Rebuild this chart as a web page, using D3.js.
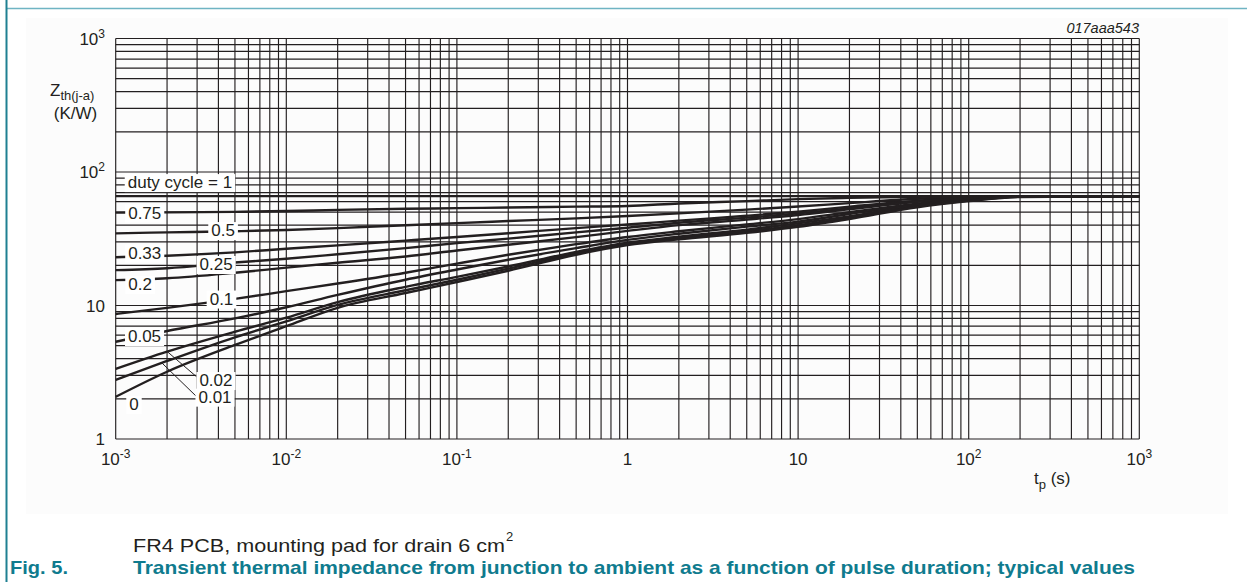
<!DOCTYPE html>
<html>
<head>
<meta charset="utf-8">
<script src="https://cdn.jsdelivr.net/npm/d3@7"></script>
<style>
  html, body { margin: 0; padding: 0; background: #fff; }
  svg { display: block; font-family: "Liberation Sans", Arial, sans-serif; }
</style>
</head>
<body>
<div id="chart"></div>
<script>
// pulse duration (s)
var tp = [0.001, 0.002, 0.005, 0.01, 0.02, 0.05, 0.1, 0.2, 0.5, 1, 2, 5, 10, 20, 50, 100, 200, 1000]

// Zth(j-a) in K/W, one array per duty cycle
var zthD100 = [66, 66, 66, 66, 66, 66, 66, 66, 66, 66, 66, 66, 66, 66, 66, 66, 66, 66]
var zthD75 = [49.6, 49.8, 50.3, 51, 52, 53.0, 53.6, 54.2, 55.0, 55.7, 58.1, 60.5, 62.6, 64, 65.2, 65.8, 66, 66]
var zthD50 = [34.7, 35.3, 36, 36.8, 38, 39.9, 41.4, 42.9, 44.9, 46.8, 49, 52.3, 55.1, 58.5, 63, 65, 66, 66]
var zthD33 = [23.0, 23.6, 25.0, 26.6, 28.2, 30.6, 32.6, 34.8, 38.0, 40.4, 43.2, 47, 50.5, 55, 61, 64.5, 66, 66]
var zthD25 = [18.4, 19.0, 21.0, 22.4, 24.2, 26.9, 29.3, 31.7, 35.3, 38.2, 41.7, 45.5, 49.0, 53.5, 60.4, 64, 65.8, 66]
var zthD20 = [15.5, 16.0, 17.6, 19.2, 20.9, 23.3, 25.8, 28.5, 32.5, 36.2, 40.0, 44, 47.6, 52.5, 59.7, 63.5, 65.8, 66]
var zthD10 = [8.64, 9.6, 11.2, 12.8, 14.6, 17.6, 20.6, 24.0, 28.8, 32.6, 36.0, 40.5, 44.4, 50, 58, 62.8, 65.5, 66]
var zthD05 = [5.35, 6.44, 8.0, 9.7, 12.0, 15.6, 18.6, 22.0, 26.9, 31.0, 34.5, 39, 42.5, 48.5, 57, 62.3, 65.5, 66]
var zthD02 = [3.35, 4.51, 6.36, 8.1, 10.6, 13.8, 16.4, 19.6, 25.2, 29.5, 32.8, 37, 41.2, 46.5, 56.2, 61.5, 65.3, 66]
var zthD01 = [2.77, 3.84, 5.78, 7.6, 10.1, 13.0, 15.6, 18.9, 24.6, 28.9, 32.0, 36, 40, 45.5, 55.3, 61, 65.2, 66]
var zthD00 = [2.07, 3.19, 5.06, 7.0, 9.6, 12.4, 15.0, 18.2, 24.0, 28.3, 31.3, 35, 38.9, 44.5, 54.5, 60.5, 65, 66]

var series = [zthD100, zthD75, zthD50, zthD33, zthD25, zthD20, zthD10, zthD05, zthD02, zthD01, zthD00]

// curve labels, anchored in data units (t, Zth)
var curveLabels = ['duty cycle = 1', '0.75', '0.5', '0.33', '0.25', '0.2', '0.1', '0.05', '0.02', '0.01', '0']
var labelT = [2.38e-3, 1.48e-3, 4.26e-3, 1.48e-3, 3.88e-3, 1.39e-3, 4.17e-3, 1.476e-3, 3.87e-3, 3.82e-3, 1.28e-3]
var labelZ = [84.2, 49.7, 36.8, 24.9, 20.5, 14.5, 11.3, 5.91, 2.77, 2.08, 1.83]

// leader lines for 0.02 and 0.01
var leaderFrom = [[3.04e-3, 2.86], [3.0e-3, 2.06]]
var leaderTo = [[2.02e-3, 4.48], [1.843e-3, 3.77]]

var xTickValues = [1e-3, 1e-2, 1e-1, 1, 10, 100, 1000]
var xTickBase = ['10', '10', '10', '1', '10', '10', '10']
var xTickExp = ['-3', '-2', '-1', '', '', '2', '3']
var yTickValues = [1, 10, 100, 1000]
var yTickBase = ['1', '10', '10', '10']
var yTickExp = ['', '', '2', '3']

var W = 1247, H = 582
var ink = '#231f20'
var teal = '#0f7b8e'

var svg = d3.select('#chart').append('svg')
  .attr('width', W)
  .attr('height', H)

// page frame
svg.append('rect')
  .attr('x', 26).attr('y', 18)
  .attr('width', 1202).attr('height', 496)
  .attr('fill', '#fcfcfc')
svg.append('line')
  .attr('x1', 6).attr('x2', W).attr('y1', 8.5).attr('y2', 8.5)
  .attr('stroke', '#6fb4c3').attr('stroke-width', 1.5)
svg.append('line')
  .attr('x1', 6.5).attr('x2', 6.5).attr('y1', 0).attr('y2', H)
  .attr('stroke', '#1f8092').attr('stroke-width', 2)

var x = d3.scaleLog().domain([1e-3, 1e3]).range([115.7, 1139.3])
var y = d3.scaleLog().domain([1, 1e3]).range([439, 38.5])

// log grid
var grid = svg.append('g')
  .attr('stroke', ink)
  .attr('stroke-width', 1.15)

grid.selectAll('.vgrid')
  .data(x.ticks())
  .enter().append('line')
  .attr('class', 'vgrid')
  .attr('x1', function (d) { return x(d) })
  .attr('x2', function (d) { return x(d) })
  .attr('y1', y(1))
  .attr('y2', y(1000))

grid.selectAll('.hgrid')
  .data(y.ticks())
  .enter().append('line')
  .attr('class', 'hgrid')
  .attr('x1', x(1e-3))
  .attr('x2', x(1e3))
  .attr('y1', function (d) { return y(d) })
  .attr('y2', function (d) { return y(d) })

// curves
var line = d3.line()
  .x(function (d, i) { return x(tp[i]) })
  .y(function (d) { return y(d) })
  .curve(d3.curveMonotoneX)

svg.append('g')
  .selectAll('path')
  .data(series)
  .enter().append('path')
  .attr('fill', 'none')
  .attr('stroke', ink)
  .attr('stroke-width', 2.4)
  .attr('stroke-linejoin', 'round')
  .attr('d', line)

// leaders
svg.append('g')
  .selectAll('line')
  .data(leaderFrom)
  .enter().append('line')
  .attr('x1', function (d) { return x(d[0]) })
  .attr('y1', function (d) { return y(d[1]) })
  .attr('x2', function (d, i) { return x(leaderTo[i][0]) })
  .attr('y2', function (d, i) { return y(leaderTo[i][1]) })
  .attr('stroke', ink)
  .attr('stroke-width', 1)

// curve labels on white boxes
curveLabels.forEach(function (txt, i) {
  var g = svg.append('g')
  var t = g.append('text')
    .attr('x', x(labelT[i]))
    .attr('y', y(labelZ[i]))
    .attr('dy', '0.36em')
    .attr('text-anchor', 'middle')
    .attr('fill', ink)
    .style('font-size', '17px')
    .text(txt)
  var b = t.node().getBBox()
  g.insert('rect', 'text')
    .attr('x', b.x - 3)
    .attr('y', b.y + 1)
    .attr('width', b.width + 6)
    .attr('height', b.height - 1)
    .attr('fill', '#fff')
})

// x tick labels
var xl = svg.append('g')
  .selectAll('text')
  .data(xTickValues)
  .enter().append('text')
  .attr('x', function (d) { return x(d) })
  .attr('y', 465)
  .attr('text-anchor', 'middle')
  .attr('fill', ink)
  .style('font-size', '17px')
xl.append('tspan').text(function (d, i) { return xTickBase[i] })
xl.append('tspan')
  .attr('dy', -7)
  .style('font-size', '12px')
  .text(function (d, i) { return xTickExp[i] })

// y tick labels
var yl = svg.append('g')
  .selectAll('text')
  .data(yTickValues)
  .enter().append('text')
  .attr('x', 105)
  .attr('y', function (d) { return y(d) + 6 })
  .attr('text-anchor', 'end')
  .attr('fill', ink)
  .style('font-size', '17px')
yl.append('tspan').text(function (d, i) { return yTickBase[i] })
yl.append('tspan')
  .attr('dy', -7)
  .style('font-size', '12px')
  .text(function (d, i) { return yTickExp[i] })

// axis titles
var yt = svg.append('text')
  .attr('x', 50).attr('y', 96)
  .attr('fill', ink)
  .style('font-size', '17px')
yt.append('tspan').text('Z')
yt.append('tspan').attr('dy', 4).style('font-size', '13px').text('th(j-a)')
svg.append('text')
  .attr('x', 75.5).attr('y', 119)
  .attr('text-anchor', 'middle')
  .attr('fill', ink)
  .style('font-size', '17px')
  .text('(K/W)')

var xt = svg.append('text')
  .attr('x', 1034).attr('y', 484)
  .attr('fill', ink)
  .style('font-size', '17px')
xt.append('tspan').text('t')
xt.append('tspan').attr('dy', 5).style('font-size', '13px').text('p')
xt.append('tspan').attr('dy', -5).text(' (s)')

svg.append('text')
  .attr('x', 1139).attr('y', 33)
  .attr('text-anchor', 'end')
  .attr('fill', ink)
  .style('font-size', '14.5px')
  .style('font-style', 'italic')
  .text('017aaa543')

// notes and caption
svg.append('text')
  .attr('x', 133).attr('y', 552)
  .attr('fill', ink)
  .style('font-size', '18.5px')
  .attr('textLength', 372)
  .attr('lengthAdjust', 'spacingAndGlyphs')
  .text('FR4 PCB, mounting pad for drain 6 cm')
svg.append('text')
  .attr('x', 506).attr('y', 541)
  .attr('fill', ink)
  .style('font-size', '13px')
  .text('2')

svg.append('text')
  .attr('x', 10).attr('y', 574)
  .attr('fill', teal)
  .style('font-size', '18.5px')
  .style('font-weight', 'bold')
  .attr('textLength', 58)
  .attr('lengthAdjust', 'spacingAndGlyphs')
  .text('Fig. 5.')
svg.append('text')
  .attr('x', 133).attr('y', 574)
  .attr('fill', teal)
  .style('font-size', '18.5px')
  .style('font-weight', 'bold')
  .attr('textLength', 1002)
  .attr('lengthAdjust', 'spacingAndGlyphs')
  .text('Transient thermal impedance from junction to ambient as a function of pulse duration; typical values')
</script>
</body>
</html>
